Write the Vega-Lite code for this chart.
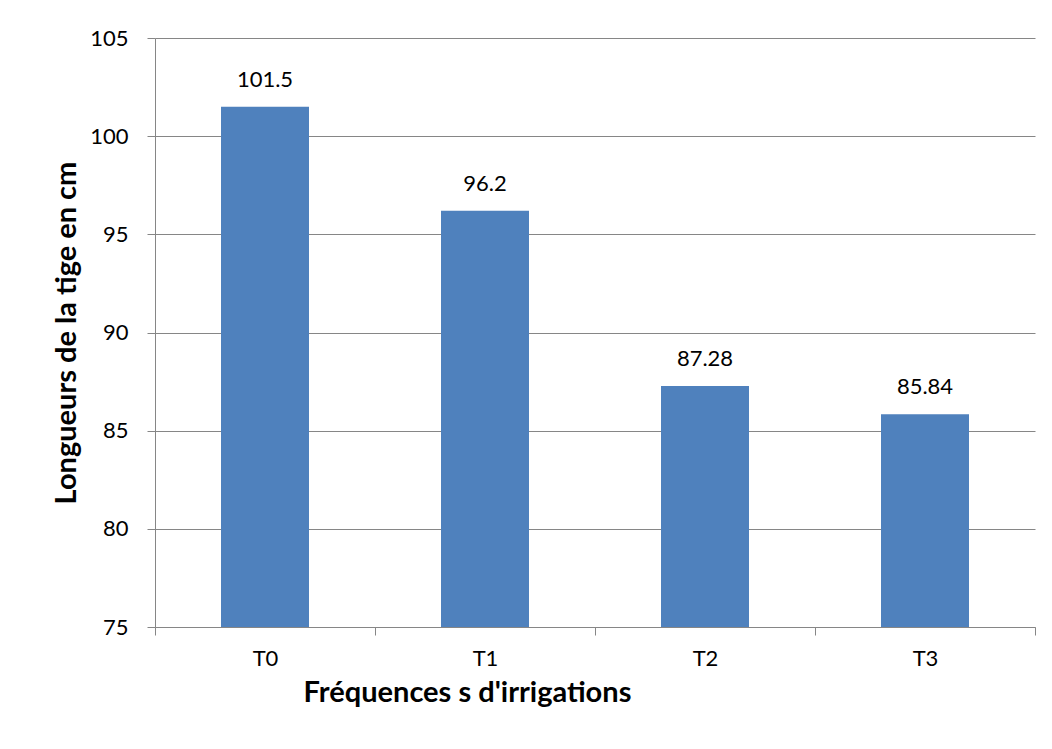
{
  "$schema": "https://vega.github.io/schema/vega-lite/v6.json",
  "width": 880,
  "height": 589,
  "autosize": {"type": "none"},
  "padding": {"left": 155, "top": 38, "right": 17, "bottom": 122},
  "background": "white",
  "data": {
    "values": [
      {"t": "T0", "v": 101.5},
      {"t": "T1", "v": 96.2},
      {"t": "T2", "v": 87.28},
      {"t": "T3", "v": 85.84}
    ]
  },
  "encoding": {
    "x": {
      "field": "t",
      "type": "nominal",
      "sort": null,
      "scale": {"paddingInner": 0, "paddingOuter": 0},
      "axis": {
        "title": "Fréquences s d'irrigations",
        "labelAngle": 0,
        "tickBand": "extent",
        "domainColor": "#868686",
        "tickColor": "#868686",
        "tickSize": 8,
        "labelFontSize": 22,
        "labelFont": "Lato",
        "labelColor": "#000000",
        "labelPadding": 13,
        "titleFont": "Lato",
        "titleFontSize": 29,
        "titleFontWeight": "bold",
        "titleColor": "#000000",
        "titleX": 312,
        "titleY": 65,
        "titleAlign": "center",
        "titleBaseline": "middle"
      }
    },
    "y": {
      "field": "v",
      "type": "quantitative",
      "scale": {"domain": [75, 105], "nice": false, "zero": false},
      "axis": {
        "title": "Longueurs de la tige en cm",
        "values": [75, 80, 85, 90, 95, 100, 105],
        "grid": true,
        "gridColor": "#868686",
        "domainColor": "#868686",
        "tickColor": "#868686",
        "tickSize": 8,
        "labelFontSize": 22,
        "labelFont": "Lato",
        "labelColor": "#000000",
        "labelPadding": 19,
        "titleFont": "Lato",
        "titleFontSize": 29,
        "titleFontWeight": "bold",
        "titleColor": "#000000",
        "titlePadding": 8
      }
    }
  },
  "layer": [
    {
      "mark": {"type": "bar", "width": {"band": 0.4}, "color": "#4F81BD"},
      "encoding": {"y2": {"datum": 75}}
    },
    {
      "mark": {"type": "text", "dy": -27, "fontSize": 22, "font": "Lato", "color": "#000000"},
      "encoding": {"text": {"field": "v", "type": "nominal"}}
    }
  ],
  "config": {"view": {"stroke": null}}
}
